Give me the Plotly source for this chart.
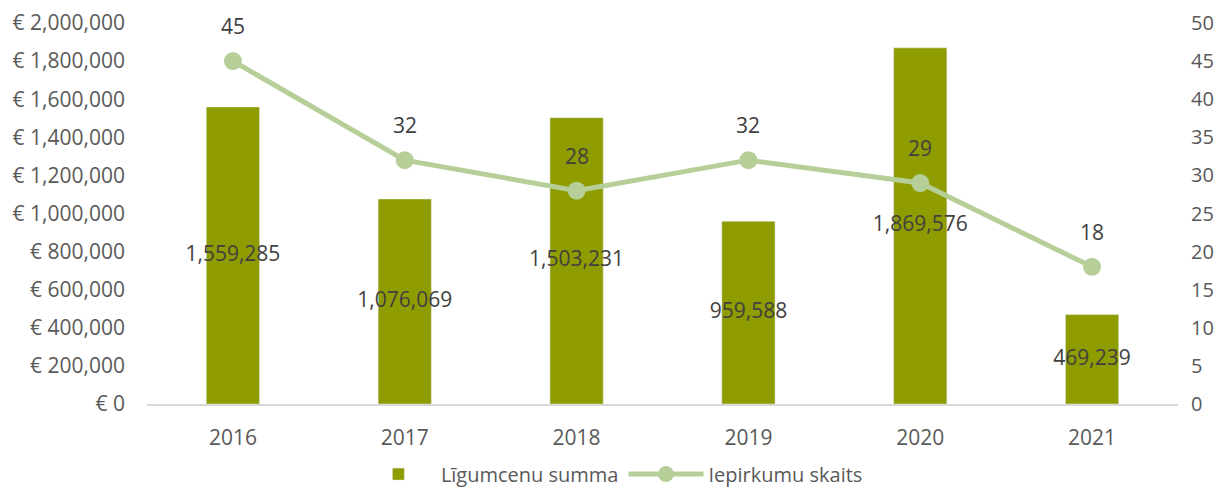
import plotly.graph_objects as go

years = ["2016", "2017", "2018", "2019", "2020", "2021"]
contract_sum = [1559285, 1076069, 1503231, 959588, 1869576, 469239]
procurements = [45, 32, 28, 32, 29, 18]

bar_color = "#8F9C00"
line_color = "#B6CF98"
text_color = "#404040"
tick_color = "#595959"
font_family = "Open Sans"

fig = go.Figure()
fig.add_trace(go.Bar(
    x=years, y=contract_sum, name="Līgumcenu summa",
    marker=dict(color=bar_color), width=0.31, yaxis="y",
))
fig.add_trace(go.Scatter(
    x=years, y=[v / 2 for v in contract_sum], mode="text",
    text=[f"{v:,}" for v in contract_sum],
    textfont=dict(size=21, color=text_color, family=font_family),
    showlegend=False, hoverinfo="skip", yaxis="y",
))
fig.add_trace(go.Scatter(
    x=years, y=procurements, name="Iepirkumu skaits", mode="lines+markers",
    line=dict(color=line_color, width=5), marker=dict(color=line_color, size=18),
    yaxis="y2",
))
# category axes place annotations by category serial number
for i, v in enumerate(procurements):
    fig.add_annotation(x=i, y=v, xref="x", yref="y2", text=str(v), showarrow=False,
                       yshift=35, font=dict(size=21, color=text_color, family=font_family))

# page body has an 8px margin; figure sized so the page does not overflow the window
fig.update_layout(
    width=1211, height=483,
    margin=dict(l=139, r=41, t=15, b=87),
    paper_bgcolor="white", plot_bgcolor="white",
    font=dict(family=font_family, size=21, color=tick_color),
    xaxis=dict(type="category", showgrid=False, showline=True, linecolor="#D9D9D9", linewidth=2,
               ticks="", ticklabelstandoff=14, automargin=False,
               tickfont=dict(size=21, color=tick_color)),
    yaxis=dict(range=[0, 2000000], dtick=200000, tickprefix="€ ", tickformat=",",
               showgrid=False, zeroline=False, showline=False, ticks="", automargin=False,
               ticklabelstandoff=21, tickfont=dict(size=21, color=tick_color)),
    yaxis2=dict(range=[0, 50], dtick=5, overlaying="y", side="right", automargin=False,
                showgrid=False, zeroline=False, showline=False, ticks="",
                ticklabelstandoff=12, tickfont=dict(size=20, color=tick_color)),
    legend=dict(orientation="h", x=0.2026, xanchor="left", yref="container", y=0.035,
                yanchor="middle", font=dict(size=20, color=tick_color), itemwidth=75,
                bgcolor="rgba(0,0,0,0)"),
    showlegend=True,
)

fig.write_html("out.html")
